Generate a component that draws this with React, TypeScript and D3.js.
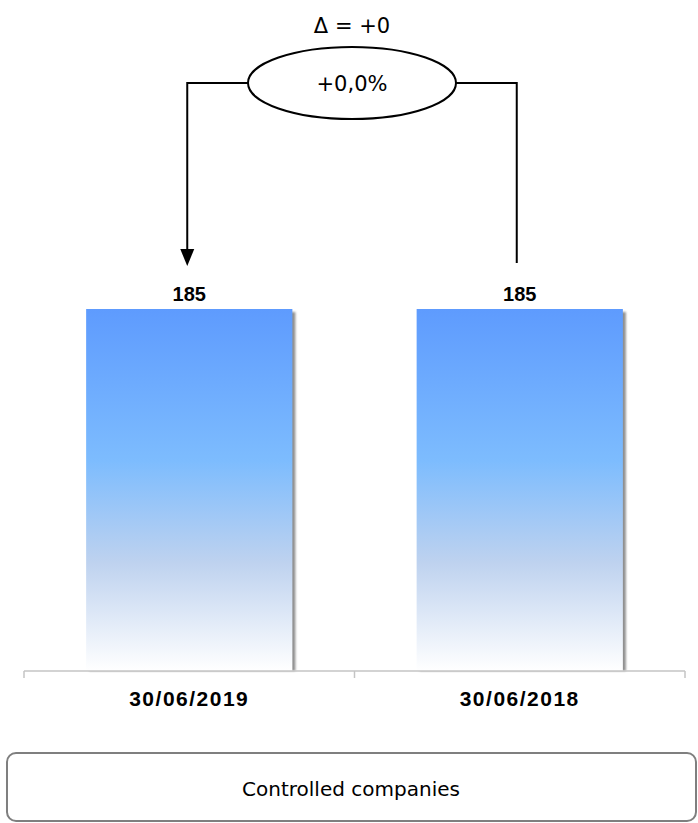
import React, { useEffect, useRef } from 'react';
import * as d3 from 'd3';

const categories = ['30/06/2019', '30/06/2018'];
const values = [185, 185];
const deltaLabel = '\u0394 = +0';
const pctLabel = '+0,0%';
const footerLabel = 'Controlled companies';

const W = 698;
const H = 823;

const App: React.FC = () => {
  const ref = useRef<SVGSVGElement | null>(null);

  useEffect(() => {
    if (!ref.current) return;
    const svg = d3.select(ref.current);
    svg.selectAll('*').remove();

    const axisY = 671;
    const axisL = 24;
    const axisR = 685;

    const x = d3.scaleBand<string>()
      .domain(categories)
      .range([axisL, axisR])
      .paddingInner(0.376)
      .paddingOuter(0.188);
    const xAxisScale = d3.scaleBand<string>().domain(categories).range([axisL, axisR]).padding(0);
    const y = d3.scaleLinear().domain([0, 185]).range([axisY, 309]);

    const defs = svg.append('defs');
    const grad = defs.append('linearGradient')
      .attr('id', 'barGrad')
      .attr('x1', 0).attr('y1', 0).attr('x2', 0).attr('y2', 1);
    [
      [0, '#5e9bfe'],
      [0.42, '#7dbcfe'],
      [0.7, '#bed2ef'],
      [1, '#ffffff'],
    ].forEach(([o, c]) => grad.append('stop').attr('offset', o as number).attr('stop-color', c as string));

    const blur = defs.append('filter').attr('id', 'shadow').attr('x', '-10%').attr('y', '-10%').attr('width', '120%').attr('height', '120%');
    blur.append('feGaussianBlur').attr('stdDeviation', 1.2);

    // bars with shadow
    categories.forEach((c, i) => {
      const bx = x(c)!;
      const bw = x.bandwidth();
      const top = y(values[i]);
      svg.append('rect')
        .attr('x', bx + 3).attr('y', top + 3)
        .attr('width', bw).attr('height', axisY - top - 3)
        .attr('fill', '#8f8f8f')
        .attr('filter', 'url(#shadow)');
      svg.append('rect')
        .attr('x', bx).attr('y', top)
        .attr('width', bw).attr('height', axisY - top)
        .attr('fill', 'url(#barGrad)');
      svg.append('text')
        .attr('x', bx + bw / 2)
        .attr('y', top - 8)
        .attr('text-anchor', 'middle')
        .style('font-family', '"Liberation Sans", Arial, sans-serif')
        .style('font-weight', 'bold')
        .style('font-size', '20px')
        .text(String(values[i]));
      svg.append('text')
        .attr('x', bx + bw / 2)
        .attr('y', 706)
        .attr('text-anchor', 'middle')
        .style('font-family', '"Liberation Sans", Arial, sans-serif')
        .style('font-weight', 'bold')
        .style('font-size', '21px')
        .style('letter-spacing', '1.5px')
        .text(c);
    });

    // axis
    svg.append('line')
      .attr('x1', axisL).attr('x2', axisR).attr('y1', axisY).attr('y2', axisY)
      .attr('stroke', '#c4c4c4').attr('stroke-width', 1.5);
    const tickXs = [axisL, ...categories.slice(1).map(c => xAxisScale(c)!), axisR];
    tickXs.forEach(tx => {
      svg.append('line')
        .attr('x1', tx).attr('x2', tx).attr('y1', axisY).attr('y2', axisY + 7)
        .attr('stroke', '#c4c4c4').attr('stroke-width', 1.5);
    });

    // delta connector
    const cxL = x(categories[0])! + x.bandwidth() / 2 - 2;
    const cxR = x(categories[1])! + x.bandwidth() / 2 - 3;
    const ex = (cxL + cxR) / 2;
    const ey = 83;
    const rx = 104;
    const ry = 36;
    svg.append('path')
      .attr('d', `M${ex - rx},${ey} H${cxL} V${252}`)
      .attr('fill', 'none').attr('stroke', '#000').attr('stroke-width', 2);
    svg.append('path')
      .attr('d', `M${cxL - 7},${249} L${cxL + 7},${249} L${cxL},${266} Z`)
      .attr('fill', '#000');
    svg.append('path')
      .attr('d', `M${ex + rx},${ey} H${cxR} V${263}`)
      .attr('fill', 'none').attr('stroke', '#000').attr('stroke-width', 2);
    svg.append('ellipse')
      .attr('cx', ex).attr('cy', ey).attr('rx', rx).attr('ry', ry)
      .attr('fill', '#fff').attr('stroke', '#000').attr('stroke-width', 2);
    svg.append('text')
      .attr('x', ex).attr('y', ey + 8)
      .attr('text-anchor', 'middle')
      .style('font-family', '"DejaVu Sans", sans-serif')
      .style('font-size', '21px')
      .text(pctLabel);
    svg.append('text')
      .attr('x', ex).attr('y', 33)
      .attr('text-anchor', 'middle')
      .style('font-family', '"DejaVu Sans", sans-serif')
      .style('font-size', '21px')
      .text(deltaLabel);

    // footer box
    svg.append('rect')
      .attr('x', 7).attr('y', 753).attr('width', 689).attr('height', 68)
      .attr('rx', 9)
      .attr('fill', '#fff').attr('stroke', '#7f7f7f').attr('stroke-width', 2);
    svg.append('text')
      .attr('x', 351).attr('y', 796)
      .attr('text-anchor', 'middle')
      .style('font-family', '"DejaVu Sans", sans-serif')
      .style('font-size', '20px')
      .text(footerLabel);
  }, []);

  return (
    <svg ref={ref} width={W} height={H} style={{ position: 'absolute', left: 0, top: 0, background: '#fff' }} />
  );
};

export default App;
